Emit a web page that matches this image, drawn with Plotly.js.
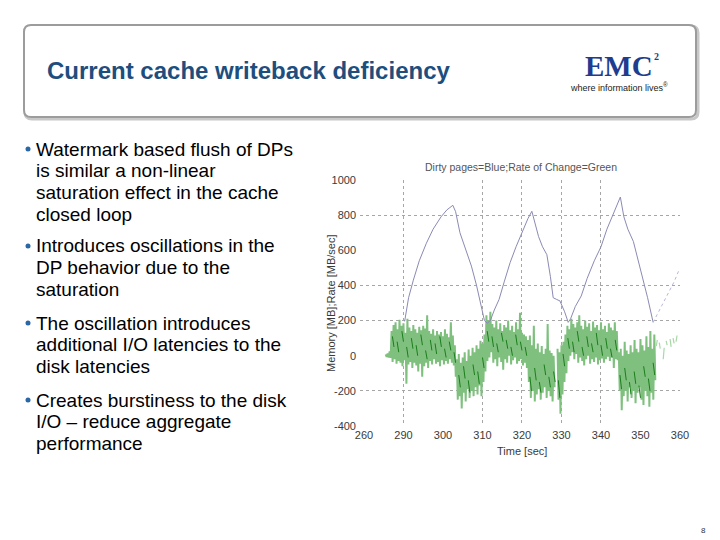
<!DOCTYPE html>
<html>
<head>
<meta charset="utf-8">
<script src="https://cdn.plot.ly/plotly-3.0.1.min.js"></script>
<style>html,body{margin:0;padding:0;background:#fff;}#chart{width:720px;height:540px;}</style>
</head>
<body>
<div id="chart"></div>
<script>
// ---------- data ----------
const xTicks = [280, 290, 300, 310, 320, 330, 340, 350, 360];
const xTickLabels = ["260", "290", "300", "310", "320", "330", "340", "350", "360"];
const yTicks = [-400, -200, 0, 200, 400, 600, 800, 1000];
const yTickLabels = ["-400", "-200", "0", "200", "400", "600", "800", "1000"];
const gridX = [290, 310, 320, 330, 340];
const gridY = [-200, 200, 400, 800];

// Dirty pages (blue)
const dirtyTime = [290.3, 291.3, 292.5, 294.0, 295.8, 297.5, 299.5, 301.0, 302.5, 303.2, 304.3, 305.5, 307.2, 308.5, 309.6, 310.5, 311.2, 312.0, 313.0, 314.2, 315.5, 317.0, 318.5, 320.0, 321.5, 322.5, 323.3, 324.2, 325.2, 326.3, 327.2, 327.9, 328.8, 329.6, 330.8, 331.7, 332.3, 333.5, 335.0, 336.5, 338.3, 340.0, 341.5, 343.0, 344.3, 344.9, 345.8, 346.8, 348.2, 349.5, 350.8, 351.8, 352.5, 353.2];
const dirtyPages = [195, 330, 430, 540, 640, 720, 790, 830, 856, 820, 700, 620, 510, 400, 280, 200, 185, 200, 260, 320, 420, 530, 620, 700, 780, 822, 760, 678, 620, 575, 450, 330, 320, 312, 250, 190, 210, 280, 340, 440, 540, 620, 720, 800, 880, 903, 790, 720, 650, 540, 420, 330, 260, 190];
const dirtyTailTime = [353.2, 355.0, 356.8, 358.5, 359.8];
const dirtyTailPages = [190, 270, 350, 420, 490];

// Rate of change (green), sampled from t=285.5 every 0.25 s
const rateStart = 285.5;
const rateStep = 0.25;
const rateValues = [
  8,-6, 12,-10, 25,-12, 140,-35, 175,-20, 190,-45, 150,-30, 205,-40, 170,-60, 185,-25,
  130,-160, 210,-50, 160,-35, 140,-70, 175,-40, 150,-55, 130,-90, 165,-45, 145,-120, 170,-60,
  155,-40, 230,-70, 140,-30, 125,-50, 150,-20, 115,-45, 140,-35, 120,-60, 135,-25, 110,-50,
  150,-30, 125,-45, 105,-20, 190,-40, 115,-55, 60,-120, -20,-250, 10,-230, -40,-300, -10,-210,
  20,-260, -30,-190, 35,-240, 0,-200, 45,-230, 20,-180, 60,-220, 40,-170, 85,-230, 70,-150,
  120,-90, 230,-30, 200,-10, 250,20, 180,-40, 160,-20, 200,-60, 150,-10, 185,-35, 140,-80,
  175,-20, 160,-40, 200,0, 145,-50, 170,-25, 135,-10, 190,-45, 150,-30, 245,-20, 130,-55,
  120,-40, 110,-70, 90,-150, 115,-240, 60,-200, 170,-260, 40,-220, 70,-190, 20,-250, 55,-210,
  10,-180, 40,-240, 180,-200, 30,-230, 15,-260, 0,-180, null,null, 40,-250, 20,-330, 60,-220,
  80,-150, 120,-100, 170,-30, 150,0, 210,20, 180,-20, 160,10, 190,-40, 230,-10, 170,-30,
  150,-55, 200,-20, 165,0, 185,-45, 140,-20, 195,-35, 160,-10, 175,-50, 145,-25, 190,-15,
  150,-40, 170,-20, 135,-5, 185,-30, 160,-10, 145,-70, 190,-20, 140,-25, 20,-200, 40,-310,
  0,-230, 80,-200, 30,-260, 10,-180, 60,-240, 20,-200, 90,-270, 40,-210, 20,-180, 95,-250,
  60,-280, 30,-200, 110,-230, 50,-290, 140,-210, 40,-250, 120,-140
];
// Sparse tail of the rate signal, from t=354 every 0.25 s
const rateTailStart = 354.0;
const rateTailValues = [55,90,null,75,40,null,null,-20,45,null,85,60,null,null,95,50,null,100,70,null,80,115,null,110];
// Dark green strokes, from t=287.2 every 0.4 s
const strokeStart = 287.2;
const strokeStep = 0.4;
const strokeValues = [
  110,50,null, 80,20,null, 140,80,null, 50,-10,null, 100,40,null, 60,0,null, 120,60,null, 30,-20,null, 90,30,null, 70,10,null,
  110,50,null, 40,-10,null, 80,30,null, 20,-40,null, -110,-180,null, -60,-130,null, -140,-210,null, -50,-110,null, -90,-160,null, -10,-70,null,
  140,80,null, 110,50,null, 70,20,null, 130,80,null, 90,40,null, 50,0,null, 120,60,null, 80,30,null, 50,0,null, -120,-200,null,
  -70,-140,null, -150,-210,null, -50,-110,null, -120,-180,null, -90,-150,null, -140,-240,null, 10,-60,null, 100,40,null, 80,20,null, 140,80,null,
  50,0,null, 110,50,null, 70,20,null, 130,60,null, 60,0,null, 100,40,null, 40,-10,null, 90,30,null, -110,-190,null, -70,-140,null,
  -150,-220,null, -90,-160,null, -170,-240,null, -60,-120,null, -130,-200,null, -40,-110,null
];

// slide text
const slideTitle = "Current cache writeback deficiency";
const chartTitle = "Dirty pages=Blue;Rate of Change=Green";
const xTitle = "Time [sec]";
const yTitle = "Memory [MB];Rate [MB/sec]";
const bullets = [
  ["Watermark based flush of DPs", "is similar a non-linear", "saturation effect in the cache", "closed loop"],
  ["Introduces oscillations in the", "DP behavior due to the", "saturation"],
  ["The oscillation introduces", "additional I/O latencies to the", "disk latencies"],
  ["Creates burstiness to the disk", "I/O \u2013 reduce aggregate", "performance"]
];

// ---------- layout helpers ----------
const W = 720, H = 540;
const fx = p => p / W;
const fy = p => 1 - p / H;
const FONT = "Liberation Sans, Arial, Helvetica, sans-serif";

function rrect(x0, y0, x1, y1, r) {
  const P = (x, y) => fx(x) + "," + fy(y);
  return "M" + P(x0 + r, y0) + " L" + P(x1 - r, y0) + " Q" + P(x1, y0) + " " + P(x1, y0 + r) +
    " L" + P(x1, y1 - r) + " Q" + P(x1, y1) + " " + P(x1 - r, y1) +
    " L" + P(x0 + r, y1) + " Q" + P(x0, y1) + " " + P(x0, y1 - r) +
    " L" + P(x0, y0 + r) + " Q" + P(x0, y0) + " " + P(x0 + r, y0) + " Z";
}

const traces = [
  {x0: rateStart, dx: rateStep, y: rateValues, type: "scatter", mode: "lines",
   line: {color: "#7fc07f", width: 2}, hoverinfo: "skip", showlegend: false, connectgaps: false},
  {x0: rateTailStart, dx: rateStep, y: rateTailValues, type: "scatter", mode: "lines",
   line: {color: "#a8d8a8", width: 1.2}, hoverinfo: "skip", showlegend: false, connectgaps: false},
  {x0: strokeStart, dx: strokeStep, y: strokeValues, type: "scatter", mode: "lines",
   line: {color: "#1b7d1b", width: 1}, hoverinfo: "skip", showlegend: false, connectgaps: false},
  {x: dirtyTime, y: dirtyPages, type: "scatter", mode: "lines",
   line: {color: "#8a8ab4", width: 1}, hoverinfo: "skip", showlegend: false},
  {x: dirtyTailTime, y: dirtyTailPages, type: "scatter", mode: "lines",
   line: {color: "#b8b8d6", width: 1, dash: "dot"}, hoverinfo: "skip", showlegend: false},
  {x: [xTicks[0]], y: [yTicks[0]], xaxis: "x2", yaxis: "y2", type: "scatter", mode: "markers",
   marker: {opacity: 0}, hoverinfo: "skip", showlegend: false}
];

const tickFont = {family: FONT, size: 11, color: "#3a3a3a"};
const xDomain = [fx(360), fx(680)];
const yDomain = [fy(426), fy(180)];
const xRange = [279, 360];
const yRange = [-400, 1000];

const annotations = [];
annotations.push({text: slideTitle, x: fx(45), y: fy(70), xref: "paper", yref: "paper",
  xanchor: "left", yanchor: "middle", showarrow: false,
  font: {family: FONT, size: 24, color: "#1d4e7e", weight: "bold"}});
annotations.push({text: "EMC", x: fx(619), y: fy(66), xref: "paper", yref: "paper",
  xanchor: "center", yanchor: "middle", showarrow: false,
  font: {family: "Liberation Serif, Times New Roman, serif", size: 29, color: "#1e3d8f", weight: "bold"}});
annotations.push({text: "2", x: fx(656), y: fy(57), xref: "paper", yref: "paper",
  xanchor: "center", yanchor: "middle", showarrow: false,
  font: {family: "Liberation Serif, Times New Roman, serif", size: 10, color: "#1e3d8f", weight: "bold"}});
annotations.push({text: "where information lives<sup>®</sup>", x: fx(619), y: fy(87.5), xref: "paper", yref: "paper",
  xanchor: "center", yanchor: "middle", showarrow: false,
  font: {family: FONT, size: 9, color: "#222"}});
annotations.push({text: "8", x: fx(703), y: fy(530), xref: "paper", yref: "paper",
  xanchor: "center", yanchor: "middle", showarrow: false,
  font: {family: FONT, size: 8, color: "#333"}});
annotations.push({text: xTitle, x: fx(522), y: fy(451), xref: "paper", yref: "paper",
  xanchor: "center", yanchor: "middle", showarrow: false,
  font: {family: FONT, size: 11, color: "#3a3a3a"}});
annotations.push({text: yTitle, x: fx(331), y: fy(303), xref: "paper", yref: "paper",
  xanchor: "center", yanchor: "middle", showarrow: false, textangle: -90,
  font: {family: FONT, size: 11, color: "#3a3a3a"}});

const bulletStartY = [149, 246, 323, 400];
const lineGap = 21.7;
const shapes = [];
shapes.push({type: "path", xref: "paper", yref: "paper", path: rrect(25, 26, 698, 119, 7),
  line: {color: "#c8c8c8", width: 3}, fillcolor: "rgba(0,0,0,0)", layer: "below"});
shapes.push({type: "path", xref: "paper", yref: "paper", path: rrect(24, 25, 696, 117, 7),
  line: {color: "#9c9c9c", width: 2}, fillcolor: "#ffffff", layer: "below"});

bullets.forEach((lines, i) => {
  const y0 = bulletStartY[i];
  shapes.push({type: "circle", xref: "paper", yref: "paper",
    x0: fx(25.5), x1: fx(30.5), y0: fy(y0 - 2.5), y1: fy(y0 + 2.5),
    fillcolor: "#2a67a6", line: {width: 0}});
  lines.forEach((t, j) => {
    annotations.push({text: t, x: fx(34), y: fy(y0 + j * lineGap), xref: "paper", yref: "paper",
      xanchor: "left", yanchor: "middle", showarrow: false,
      font: {family: FONT, size: 19, color: "#000"}});
  });
});

const layout = {
  width: W, height: H,
  margin: {l: 0, r: 0, t: 0, b: 0, pad: 0},
  paper_bgcolor: "#ffffff", plot_bgcolor: "#ffffff",
  showlegend: false,
  title: {text: chartTitle, x: fx(521), y: fy(167), xref: "paper", yref: "paper",
    xanchor: "center", yanchor: "middle", font: {family: FONT, size: 10.5, color: "#555"}},
  xaxis: {domain: xDomain, range: xRange, tickvals: gridX, showticklabels: false,
    showgrid: true, gridcolor: "#a6a6a6", griddash: "dot", gridwidth: 1,
    zeroline: false, showline: false, ticks: "", fixedrange: true},
  yaxis: {domain: yDomain, range: yRange, tickvals: gridY, showticklabels: false,
    showgrid: true, gridcolor: "#a6a6a6", griddash: "dot", gridwidth: 1,
    zeroline: false, showline: false, ticks: "", fixedrange: true},
  xaxis2: {overlaying: "x", anchor: "y2", side: "bottom", range: xRange,
    tickvals: xTicks, ticktext: xTickLabels, showgrid: false, zeroline: false,
    showline: false, ticks: "", tickfont: tickFont, ticklabelstandoff: 1},
  yaxis2: {overlaying: "y", anchor: "x2", side: "left", range: yRange,
    tickvals: yTicks, ticktext: yTickLabels, showgrid: false, zeroline: false,
    showline: false, ticks: "", tickfont: tickFont, ticklabelstandoff: 3},
  shapes: shapes,
  annotations: annotations
};

Plotly.newPlot("chart", traces, layout, {staticPlot: true, displayModeBar: false});
</script>
</body>
</html>
